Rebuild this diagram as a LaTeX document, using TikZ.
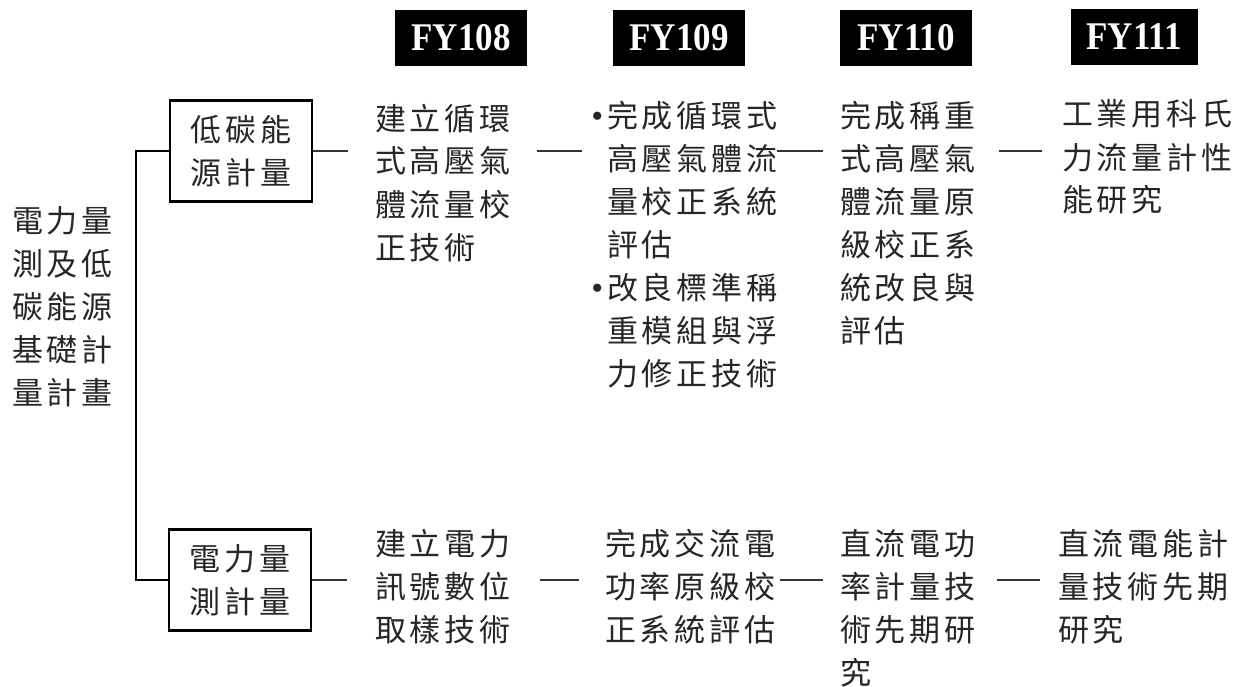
\documentclass[tikz,border=0pt]{standalone}
\usepackage{fontspec}
\setmainfont{Liberation Serif}
\newfontfamily\cjk[LetterSpace=12]{Noto Sans CJK TC}
\usetikzlibrary{positioning}

\tikzset{
  plan/.style={font=\cjk\fontsize{31}{43}\selectfont, text=black!85, align=left, inner sep=0pt, anchor=base west},
  unit/.style={draw, line width=2.2pt, minimum width=142, minimum height=101, inner sep=0pt, align=center, text=black!85, font=\cjk\fontsize{31}{43}\selectfont},
  year/.style={fill=black, text=white, minimum width=132, minimum height=56, inner sep=0pt, font=\bfseries\fontsize{35}{35}\selectfont},
  link/.style={draw=black!80, line width=1.3pt},
  trunk/.style={draw=black, line width=2.4pt},
}
\newcommand\fyear[1]{\scalebox{1}[1.12]{#1}}
\newcommand\dotmark{\llap{{\rmfamily\fontsize{34}{43}\selectfont •}\hspace{4pt}}}

\begin{document}
\begin{tikzpicture}[x=1pt, y=-1pt]
\useasboundingbox (0,0) rectangle (1256,687);

% years
\node[year] (fy108) at (461,38) {\fyear{FY108}};
\node[year] (fy109) at (679,38) {\fyear{FY109}};
\node[year] (fy110) at (906,38) {\fyear{FY110}};
\node[year, minimum width=127] (fy111) at (1134,37) {\fyear{FY111}};

% plan title and the two units (base = last line)
\node[plan] (title) at (12,404) {電力量\\測及低\\碳能源\\基礎計\\量計畫};
\node[unit] (low) at (241,151) {低碳能\\源計量};
\node[unit] (elec) at (240,580) {電力量\\測計量};
\draw[trunk] (low.west) -- ++(-33,0) |- (elec.west);

% low carbon row
\node[plan] (a1) at (375,259) {建立循環\\式高壓氣\\體流量校\\正技術};
\node[plan] (a2) at (607,385) {\dotmark 完成循環式\\高壓氣體流\\量校正系統\\評估\\\dotmark 改良標準稱\\重模組與浮\\力修正技術};
\node[plan] (a3) at (840,342) {完成稱重\\式高壓氣\\體流量原\\級校正系\\統改良與\\評估};
\node[plan] (a4) at (1062,212) {工業用科氏\\力流量計性\\能研究};

\draw[link, shorten >=27pt] (low.east) -- (a1.west |- low.east);
\draw[link, shorten <=26pt, shorten >=25pt] (a1.east |- low.east) -- (a2.west |- low.east);
\draw[link, shorten >=17pt] (a2.east |- low.east) -- (a3.west |- low.east);
\draw[link, shorten <=23pt, shorten >=20pt] (a3.east |- low.east) -- (a4.west |- low.east);

% electrical row
\node[plan] (b1) at (375,641) {建立電力\\訊號數位\\取樣技術};
\node[plan] (b2) at (605,641) {完成交流電\\功率原級校\\正系統評估};
\node[plan] (b3) at (840,684) {直流電功\\率計量技\\術先期研\\究};
\node[plan] (b4) at (1058,641) {直流電能計\\量技術先期\\研究};

\draw[link, shorten >=28pt] (elec.east) -- (b1.west |- elec.east);
\draw[link, shorten <=29pt, shorten >=26pt] (b1.east |- elec.east) -- (b2.west |- elec.east);
\draw[link, shorten <=5pt, shorten >=17pt] (b2.east |- elec.east) -- (b3.west |- elec.east);
\draw[link, shorten <=21pt, shorten >=18pt] (b3.east |- elec.east) -- (b4.west |- elec.east);

\end{tikzpicture}
\end{document}
